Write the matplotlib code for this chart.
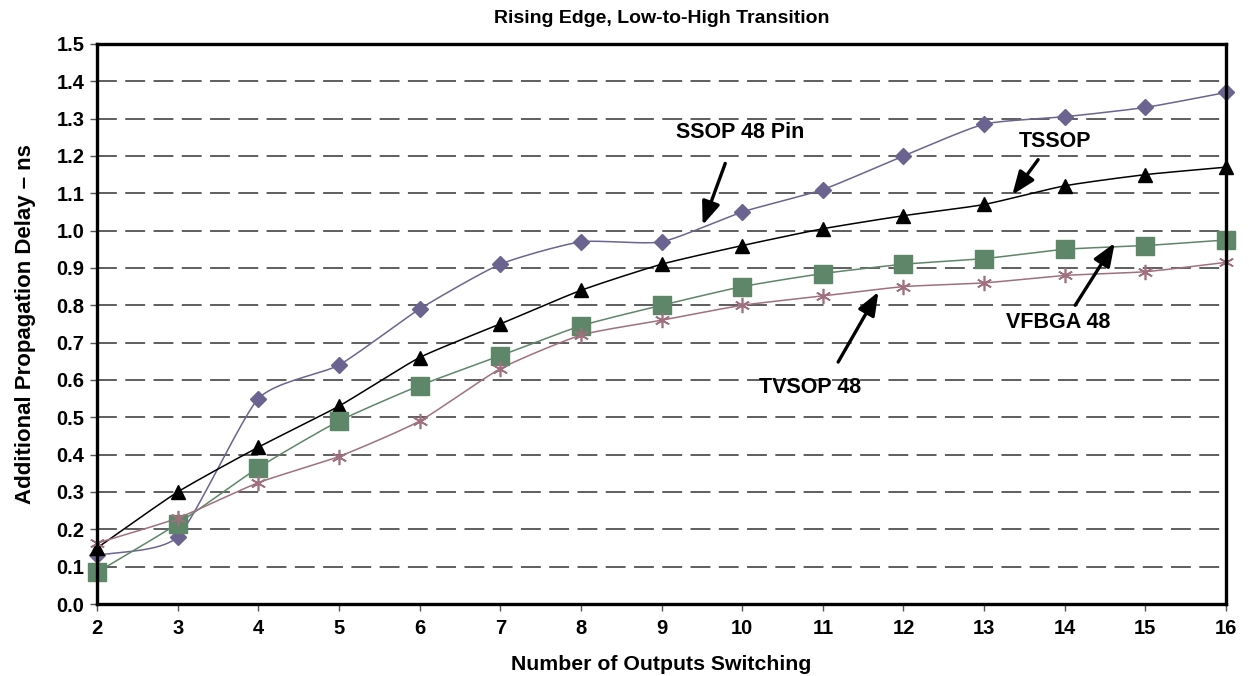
import numpy as np
import matplotlib
matplotlib.use("Agg")
import matplotlib.pyplot as plt

plt.rcParams['font.family'] = ['Liberation Sans', 'DejaVu Sans']

outputs = list(range(2, 17))
ssop = [0.13, 0.18, 0.55, 0.64, 0.79, 0.91, 0.97, 0.97, 1.05, 1.11, 1.20, 1.285, 1.305, 1.33, 1.37]
tssop = [0.15, 0.30, 0.42, 0.53, 0.66, 0.75, 0.84, 0.91, 0.96, 1.005, 1.04, 1.07, 1.12, 1.15, 1.17]
vfbga = [0.085, 0.215, 0.365, 0.49, 0.585, 0.665, 0.745, 0.80, 0.85, 0.885, 0.91, 0.925, 0.95, 0.96, 0.975]
tvsop = [0.163, 0.23, 0.325, 0.395, 0.49, 0.63, 0.72, 0.76, 0.80, 0.825, 0.85, 0.86, 0.88, 0.89, 0.915]
yticks = [round(0.1 * i, 1) for i in range(16)]


def smooth(x, y, n=20):
    x = np.asarray(x, float); y = np.asarray(y, float)
    px = np.concatenate([[2 * x[0] - x[1]], x, [2 * x[-1] - x[-2]]])
    py = np.concatenate([[2 * y[0] - y[1]], y, [2 * y[-1] - y[-2]]])
    xs, ys = [], []
    t = np.linspace(0, 1, n, endpoint=False)
    for i in range(1, len(px) - 2):
        for arr, a in ((xs, px[i-1:i+3]), (ys, py[i-1:i+3])):
            a0, a1, a2, a3 = a
            m1 = (a2 - a0) / 2 * 0.6
            m2 = (a3 - a1) / 2 * 0.6
            h00 = 2*t**3 - 3*t**2 + 1
            h10 = t**3 - 2*t**2 + t
            h01 = -2*t**3 + 3*t**2
            h11 = t**3 - t**2
            arr.extend(h00*a1 + h10*m1 + h01*a2 + h11*m2)
    xs.append(x[-1]); ys.append(y[-1])
    return np.array(xs), np.array(ys)


fig = plt.figure(figsize=(12.49, 6.76), dpi=100)
ax = fig.add_axes([0.0777, 0.1065, 0.9039, 0.8285])

series = [
    (ssop, '#6B6490', 'D', 8),
    (tssop, '#000000', '^', 10),
    (vfbga, '#5E8668', 's', 13),
    (tvsop, '#A0707F', (6, 2, 0), 11),
]
for vals, col, mk, ms in series:
    sx, sy = smooth(outputs, vals)
    ax.plot(sx, sy, color=col, lw=1.1, zorder=3, clip_on=False)
    if mk == (6, 2, 0):
        ax.plot(outputs, vals, ls='none', marker=mk, ms=ms, mec=col, mew=1.2, zorder=4, clip_on=False)
    else:
        ax.plot(outputs, vals, ls='none', marker=mk, ms=ms, color=col, mec=col, zorder=4, clip_on=False)

for yv in yticks[1:-1]:
    ax.axhline(yv, color='#333333', lw=1.1, dashes=(13, 5.5), zorder=1)

ax.set_xlim(2, 16)
ax.set_ylim(0, 1.5)
ax.set_xticks(outputs)
ax.set_yticks(yticks)
ax.set_yticklabels([f"{v:.1f}" for v in yticks])
for s in ax.spines.values():
    s.set_linewidth(2.4)
    s.set_color('black')
    s.set_zorder(5)
ax.tick_params(axis='both', labelsize=14.5, width=1, length=5, direction='out', color='#555555', pad=4)
ax.tick_params(axis='x', pad=6)
for lbl in ax.get_xticklabels() + ax.get_yticklabels():
    lbl.set_fontweight('bold')

ax.set_title('Rising Edge, Low-to-High Transition', fontsize=14, fontweight='bold', pad=15)
ax.set_xlabel('Number of Outputs Switching', fontsize=15.3, fontweight='bold', labelpad=12)
ax.set_ylabel('Additional Propagation Delay – ns', fontsize=16, fontweight='bold', labelpad=15)

arrowprops = dict(arrowstyle='-|>,head_length=1.4,head_width=0.55', color='black', lw=2.4, shrinkA=0, shrinkB=0)
annots = [
    ('SSOP 48 Pin', (9.97, 1.262), (9.79, 1.18), (9.51, 1.015)),
    ('TSSOP', (13.88, 1.238), (13.67, 1.19), (13.35, 1.096)),
    ('VFBGA 48', (13.92, 0.753), (14.13, 0.80), (14.62, 0.967)),
    ('TVSOP 48', (10.84, 0.579), (11.19, 0.648), (11.69, 0.836)),
]
for txt, tpos, tail, head in annots:
    ax.text(*tpos, txt, fontsize=15.5, fontweight='bold', ha='center', va='center', zorder=6)
    ax.annotate('', xy=head, xytext=tail, arrowprops=arrowprops, zorder=6)

fig.savefig('out.png', dpi=100)
